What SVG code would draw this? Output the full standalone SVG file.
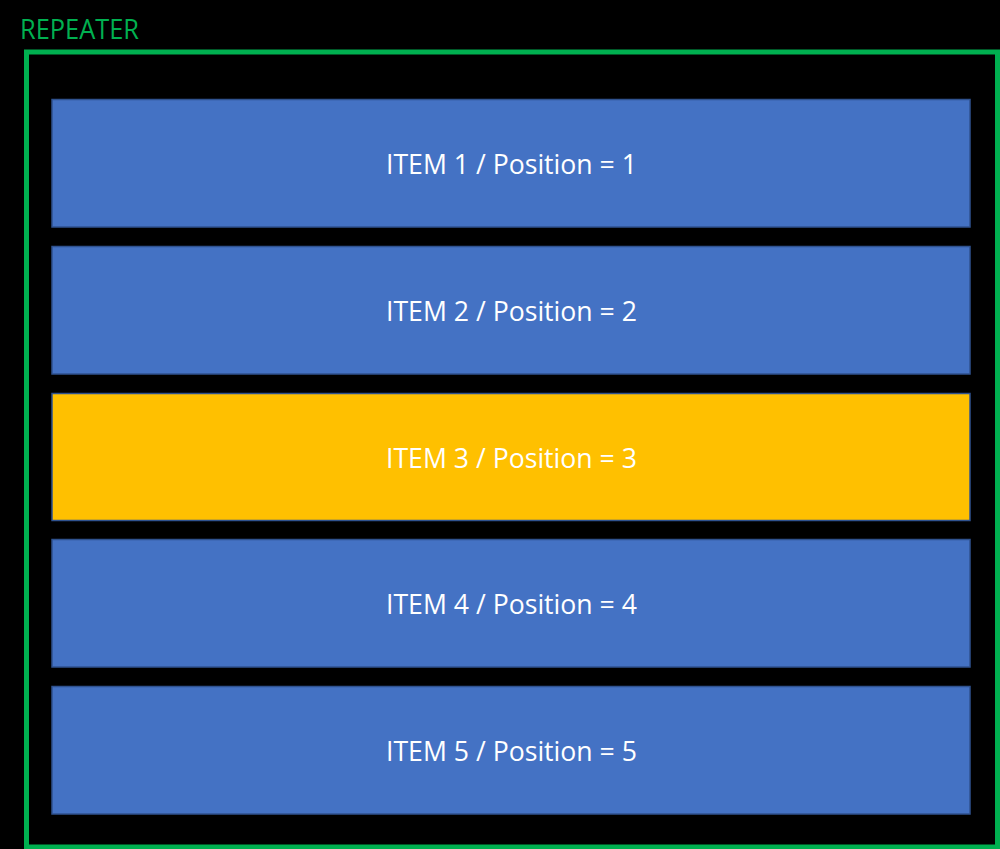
<svg xmlns="http://www.w3.org/2000/svg" width="1000" height="849" viewBox="0 0 1000 849">
<style>
.item{stroke:#2F528F;stroke-width:1.5}
.blue{fill:#4472C4}
.gold{fill:#FFC000}
.lbl{font-family:"Open Sans","Liberation Sans",sans-serif;font-size:27px;fill:#FFFFFF;text-anchor:middle}
</style>
<rect x="0" y="0" width="1000" height="849" fill="#000000"/>
<g id="repeater">
<rect x="26.5" y="52" width="971" height="795" fill="none" stroke="#00B050" stroke-width="5"/>
<text x="20" y="38.5" font-family="Open Sans, Liberation Sans, sans-serif" font-size="27" fill="#00B050" textLength="119" lengthAdjust="spacingAndGlyphs">REPEATER</text>
</g>
<g id="item1"><rect class="item blue" x="52" y="99.5" width="918" height="127.5"/><text class="lbl" x="511.5" y="174" textLength="251" lengthAdjust="spacingAndGlyphs">ITEM 1 / Position = 1</text></g>
<g id="item2"><rect class="item blue" x="52" y="246.5" width="918" height="127.5"/><text class="lbl" x="511.5" y="321" textLength="251" lengthAdjust="spacingAndGlyphs">ITEM 2 / Position = 2</text></g>
<g id="item3"><rect class="item gold" x="52" y="393.5" width="918" height="127"/><text class="lbl" x="511.5" y="468" textLength="251" lengthAdjust="spacingAndGlyphs">ITEM 3 / Position = 3</text></g>
<g id="item4"><rect class="item blue" x="52" y="539.5" width="918" height="127.5"/><text class="lbl" x="511.5" y="614" textLength="251" lengthAdjust="spacingAndGlyphs">ITEM 4 / Position = 4</text></g>
<g id="item5"><rect class="item blue" x="52" y="686.5" width="918" height="127.5"/><text class="lbl" x="511.5" y="761" textLength="251" lengthAdjust="spacingAndGlyphs">ITEM 5 / Position = 5</text></g>
<g id="connectors"/>
</svg>
